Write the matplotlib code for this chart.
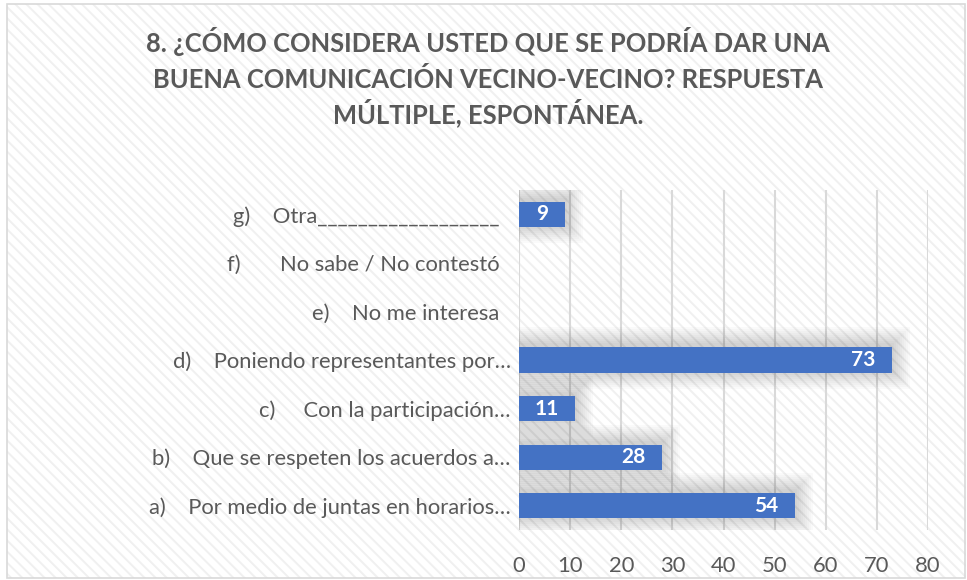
import matplotlib.pyplot as plt
import matplotlib.patches as mpatches

categories = ['a)    Por medio de juntas en horarios…',
              'b)    Que se respeten los acuerdos a…',
              'c)     Con la participación…',
              'd)    Poniendo representantes por…',
              'e)    No me interesa  ',
              'f)       No sabe / No contestó  ',
              'g)    Otra__________________  ']
values = [54, 28, 11, 73, 0, 0, 9]
ticks = [0, 10, 20, 30, 40, 50, 60, 70, 80]
title_lines = ['8. ¿CÓMO CONSIDERA USTED QUE SE PODRÍA DAR UNA',
               'BUENA COMUNICACIÓN VECINO-VECINO? RESPUESTA',
               'MÚLTIPLE, ESPONTÁNEA.']

plt.rcParams['font.family'] = ['Lato', 'DejaVu Sans']
plt.rcParams['hatch.linewidth'] = 1.4

fig = plt.figure(figsize=(9.67, 5.80), dpi=100)
fig.patch.set_facecolor('white')

# striped background + border
bg = mpatches.Rectangle((7/967, 1 - 578/580), 959/967, 574/580, transform=fig.transFigure,
                        facecolor='#ffffff', edgecolor='#f0f0f0', linewidth=0,
                        hatch='\\\\\\', zorder=-2)
fig.patches.append(bg)
border = mpatches.Rectangle((7/967, 1 - 578/580), 958/967, 574/580, transform=fig.transFigure,
                            facecolor='none', edgecolor='#d9d9d9', linewidth=1.2, zorder=-1)
fig.patches.append(border)

ax = fig.add_axes([519/967, 1 - 530/580, 409/967, 340/580])
ax.set_facecolor('none')

y = range(len(categories))
bh = 0.52
bars = ax.barh(y, values, height=bh, color='#4472c4', zorder=3)

# soft shadow behind the bars
px_x = 80 / 409
px_y = len(categories) / 340
for b, v in zip(bars, values):
    if v <= 0:
        continue
    for e in range(2, 20, 2):
        ex, ey = e * px_x, e * px_y
        ax.add_patch(mpatches.Rectangle((0, b.get_y() - ey + 2 * px_y), v + ex, bh + 2 * ey,
                                        facecolor='black', alpha=0.02, linewidth=0, zorder=1))

for b, v in zip(bars, values):
    if v > 0:
        ax.annotate(str(v), (v, b.get_y() + b.get_height() / 2), xytext=(-12, 0),
                    textcoords='offset points', ha='right', va='center',
                    color='white', fontsize=15, fontweight='bold', zorder=4)

ax.set_xlim(0, 80)
ax.set_ylim(-0.5, len(categories) - 0.5)
ax.set_xticks(ticks)
ax.set_yticks(list(y))
ax.set_yticklabels(categories)
ax.grid(axis='x', color='#d9d9d9', linewidth=1.5, zorder=0)
ax.set_axisbelow(True)
for s in ax.spines.values():
    s.set_visible(False)
ax.tick_params(axis='both', length=0, colors='#595959', labelsize=15.8)
ax.tick_params(axis='x', pad=19)
ax.tick_params(axis='y', pad=6)

for i, line in enumerate(title_lines):
    fig.text(0.505, 1 - (52 + 35.5 * i) / 580, line, ha='center', va='baseline',
             fontsize=18.4, fontweight='bold', color='#595959')

fig.savefig('out.png', dpi=100)
